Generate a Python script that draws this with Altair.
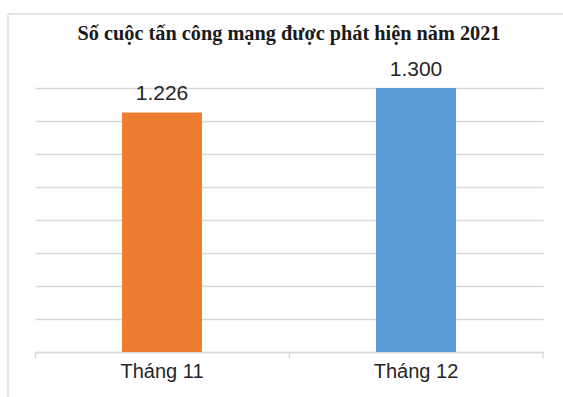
import altair as alt
import pandas as pd

categories = ["Tháng 11", "Tháng 12"]
values = [1226, 1300]
colors = ["#ED7D31", "#5B9BD5"]
title_text = "Số cuộc tấn công mạng được phát hiện năm 2021"
y_domain = [500, 1300]
grid_values = [500, 600, 700, 800, 900, 1000, 1100, 1200, 1300]

df = pd.DataFrame({
    "cat": categories,
    "value": values,
    "label": [f"{v:,}".replace(",", ".") for v in values],
    "color": colors,
})

W, H = 508, 264

x_enc = alt.X(
    "cat:N",
    sort=categories,
    scale=alt.Scale(paddingInner=0, paddingOuter=0),
    axis=alt.Axis(
        title=None, bandPosition=0, domainColor="#d9d9d9", domainWidth=1.5,
        tickColor="#d9d9d9", tickWidth=1.5, tickSize=6, labelAngle=0,
        labelFont="Liberation Sans", labelFontSize=20, labelColor="#262626",
        labelPadding=3, grid=False,
    ),
)
y_axis = alt.Axis(
    title=None, labels=False, ticks=False, domain=False,
    values=grid_values, tickCount=len(grid_values), grid=True,
    gridColor="#d9d9d9", gridWidth=1.5,
)
y_scale = alt.Scale(domain=y_domain, zero=False, nice=False)

bars = alt.Chart(df).mark_bar(width=80).encode(
    x=x_enc,
    y=alt.Y("value:Q", scale=y_scale, axis=y_axis),
    y2=alt.datum(y_domain[0]),
    color=alt.Color("color:N", scale=None),
)
text = alt.Chart(df).mark_text(
    baseline="alphabetic", dy=-12, font="Liberation Sans", fontSize=21, color="#262626"
).encode(
    x=alt.X("cat:N", sort=categories),
    y=alt.Y("value:Q", scale=y_scale, axis=y_axis),
    text="label:N",
)

end_tick = alt.Chart(alt.Data(values=[{}])).mark_rule(color="#d9d9d9", strokeWidth=1.5).encode(
    x=alt.value(W), y=alt.value(H), y2=alt.value(H + 6)
)
frame_top = alt.Chart(alt.Data(values=[{}])).mark_rule(color="#dcdcdc", strokeWidth=1.5).encode(
    x=alt.value(-27), x2=alt.value(W + 40), y=alt.value(-74)
)
frame_left = alt.Chart(alt.Data(values=[{}])).mark_rule(color="#dcdcdc", strokeWidth=1.5).encode(
    x=alt.value(-27), y=alt.value(-74), y2=alt.value(H + 60)
)

chart = alt.layer(bars, text, end_tick, frame_top, frame_left).properties(
    width=W, height=H,
    background="white",
    title=alt.TitleParams(
        title_text, font="Liberation Serif", fontSize=20.3, fontWeight="bold",
        color="#1a1a1a", anchor="middle", baseline="alphabetic", offset=-47,
    ),
    autosize=alt.AutoSizeParams(type="none"),
    padding={"left": 35, "top": 88, "right": 20, "bottom": 45},
).configure_view(strokeWidth=0)

chart.save("out.html", embed_options={"renderer": "svg", "actions": False})
